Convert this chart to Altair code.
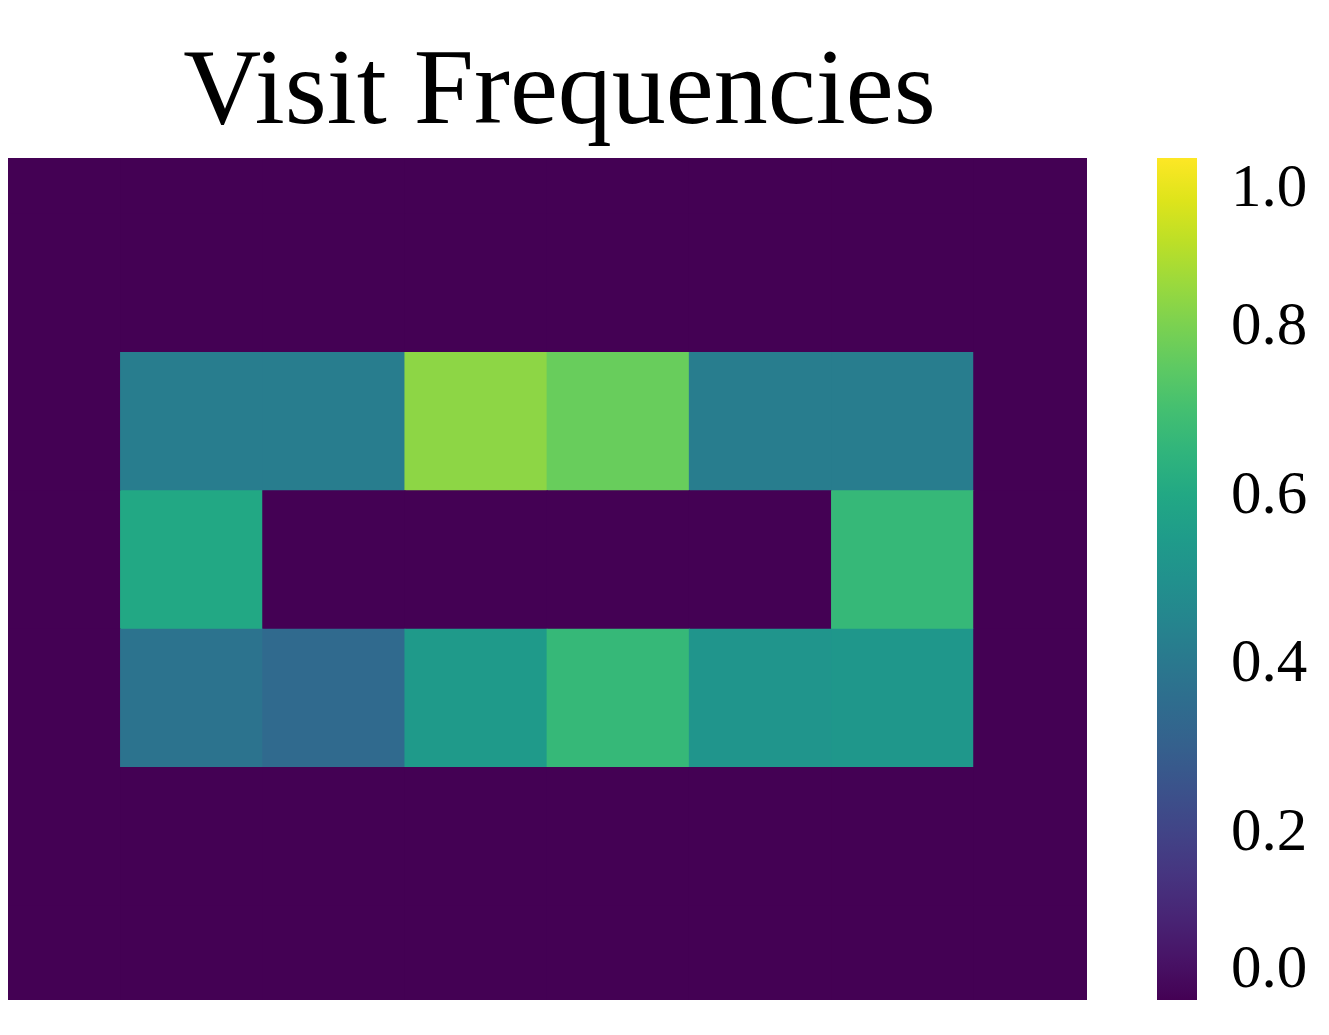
import altair as alt
import pandas as pd

# Visit frequency grid: rows top->bottom, columns left->right (includes zero border)
row_ids = [-2, -1, 0, 1, 2, 3, 4]
col_ids = [-1, 0, 1, 2, 3, 4, 5, 6]
grid = [
    [0.0, 0.0, 0.0, 0.0, 0.0, 0.0, 0.0, 0.0],
    [0.0, 0.0, 0.0, 0.0, 0.0, 0.0, 0.0, 0.0],
    [0.0, 0.42, 0.42, 0.83, 0.77, 0.42, 0.42, 0.0],
    [0.0, 0.60, 0.0, 0.0, 0.0, 0.0, 0.67, 0.0],
    [0.0, 0.38, 0.34, 0.54, 0.67, 0.52, 0.53, 0.0],
    [0.0, 0.0, 0.0, 0.0, 0.0, 0.0, 0.0, 0.0],
    [0.0, 0.0, 0.0, 0.0, 0.0, 0.0, 0.0, 0.0],
]
legend_ticks = [0.0, 0.2, 0.4, 0.6, 0.8, 1.0]

records = []
for r, row in zip(row_ids, grid):
    for c, v in zip(col_ids, row):
        records.append({"x": c, "x2": c + 1, "y": r, "y2": r + 1, "freq": v})
df = pd.DataFrame(records)

serif = "Liberation Serif"

chart = (
    alt.Chart(df)
    .mark_rect(clip=True, x2Offset=1, y2Offset=1)
    .encode(
        x=alt.X("x:Q", scale=alt.Scale(domain=[-0.788, 6.80], nice=False, zero=False), axis=None),
        x2="x2:Q",
        y=alt.Y("y:Q", scale=alt.Scale(domain=[4.685, -1.403], nice=False, zero=False), axis=None),
        y2="y2:Q",
        color=alt.Color(
            "freq:Q",
            scale=alt.Scale(scheme="viridis", domain=[0, 1]),
            legend=alt.Legend(
                type="gradient",
                title=None,
                orient="none",
                legendX=1149,
                legendY=0,
                direction="vertical",
                gradientLength=842,
                gradientThickness=40,
                gradientStrokeWidth=0,
                values=legend_ticks,
                format=".1f",
                labelFont=serif,
                labelFontSize=61,
                labelColor="black",
                labelOffset=34,
                labelOverlap=False,
                labelBaseline="middle",
            ),
        ),
    )
    .properties(
        width=1079,
        height=842,
        padding={"left": 0, "top": 29, "right": 0, "bottom": 0},
        title=alt.Title(
            "Visit Frequencies",
            font=serif,
            fontSize=108,
            fontWeight="normal",
            color="black",
            anchor="middle",
            dx=12,
            offset=12,
        ),
    )
    .configure_view(stroke=None)
)

chart.save("out.html", embed_options={"renderer": "svg", "actions": False})
